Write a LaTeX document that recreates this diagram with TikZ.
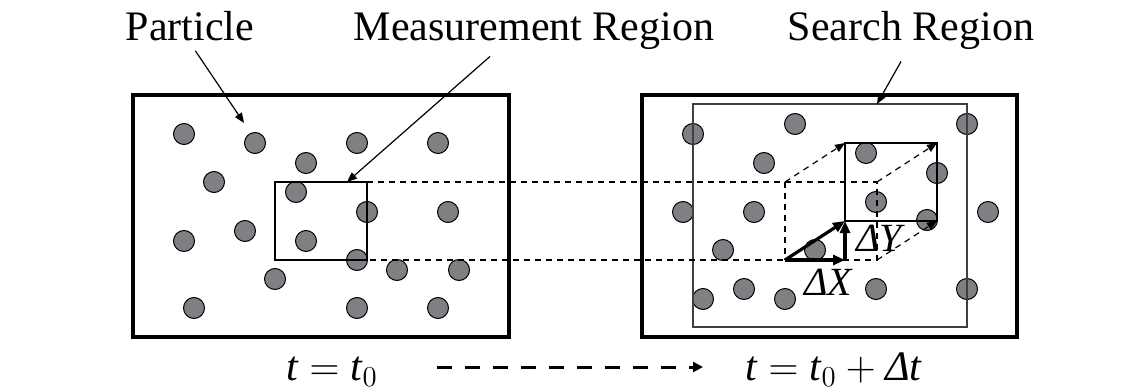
\documentclass[tikz,border=0pt]{standalone}
\usepackage{fontspec}
\setmainfont{Liberation Serif}
\usetikzlibrary{arrows.meta}
\definecolor{dotgray}{RGB}{128,128,132}
\tikzset{
  >={Triangle[length=5pt,width=4pt]},
  frame/.style={draw,line width=1.8pt},
  particle/.style={circle,draw,line width=0.5pt,fill=dotgray,minimum size=10.5pt,inner sep=0pt},
  region/.style={draw,line width=0.6pt},
  guide/.style={draw,line width=0.6pt,dash pattern=on 3pt off 2.5pt},
  lead/.style={draw,line width=0.6pt,->},
  shiftarr/.style={draw,line width=1.6pt,-{Triangle[length=6pt,width=5pt]}},
  title/.style={font=\fontsize{21}{25}\selectfont,inner sep=2pt},
  tarrow/.style={draw,line width=1.5pt,dash pattern=on 7.5pt off 6.5pt,-{Triangle[length=5pt,width=5pt]}}
}
\begin{document}
\begin{tikzpicture}[x=0.5pt,y=-0.5pt]
\useasboundingbox (0,0) rectangle (1145,390);
% particles at t0
\foreach \px/\py [count=\i] in {184/134,255/143,357/143,438/143,306/163,214/182,296/192,
  367/212,448/212,184/241,245/231,306/241,357/260,397/270,459/270,275/279,194/308,357/308,438/308}
  \node[particle] (pa\i) at (\px,\py) {};
% particles at t0 + dt
\foreach \px/\py [count=\i] in {693/134,795/124,967/124,764/163,866/153,937/173,683/212,754/212,
  876/202,988/212,927/220,723/250,815/250,703/299,744/289,785/299,876/289,967/289}
  \node[particle] (pb\i) at (\px,\py) {};
% frames
\draw[frame] (133,95) rectangle (509,337);
\draw[frame] (642,95) rectangle (1017,337);
% regions
\coordinate (mnw) at (275,182); \coordinate (mse) at (367,260);
\coordinate (snw) at (693,104); \coordinate (sse) at (967,327);
\draw[region] (mnw) rectangle (mse);
\draw[region,black!75] (snw) rectangle (sse);
% moved region
\coordinate (dtl) at (785,182); \coordinate (dtr) at (877,182);
\coordinate (dbl) at (785,260); \coordinate (dbr) at (877,260);
\coordinate (ntl) at (845,143); \coordinate (ntr) at (937,143);
\coordinate (nbl) at (845,221); \coordinate (nbr) at (937,221);
\draw[region] (ntl) rectangle (nbr);
\draw[guide] (mse |- mnw) -- (dtr) -- (dbr) -- (mse);
\draw[guide] (dtl) -- (dbl);
\draw[guide,->] (dtl) -- (ntl);
\draw[guide,->] (dtr) -- (ntr);
\draw[guide,->] (dbr) -- (nbr);
\draw[shiftarr] (dbl) -- (nbl);
\draw[shiftarr] (dbl) -- (dbl -| nbl);
\draw[shiftarr] (dbl -| nbl) -- (nbl);
\node[title,font=\fontsize{20}{24}\selectfont,anchor=base west] (dx) at (800,295) {\textit{ΔX}};
\node[title,font=\fontsize{20}{24}\selectfont,anchor=base west] (dy) at (852,251) {\textit{ΔY}};
% labels
\node[title,anchor=base] (lblpart) at (190,41) {Particle};
\node[title,anchor=base] (lblmeas) at (534,41) {Measurement Region};
\node[title,anchor=base] (lblsearch) at (911,41) {Search Region};
\draw[lead,shorten <=3pt] ([xshift=1pt]lblpart.south) -- (244,123);
\draw[lead] ([xshift=-22pt,yshift=-1pt]lblmeas.south) -- (347,182);
\draw[lead,shorten <=4pt] ([xshift=-3pt]lblsearch.south) -- (877,104);
% time
\node[title,anchor=base west] (tleft) at (282,380) {$\textit{t} = \textit{t}_{0}$};
\node[title,anchor=base west] (tright) at (741,380) {$\textit{t} = \textit{t}_{0}+\textit{Δt}$};
\draw[tarrow] ([shift={(55,-13)}]tleft.base east) -- ([shift={(-38,-13)}]tright.base west);
\end{tikzpicture}
\end{document}
